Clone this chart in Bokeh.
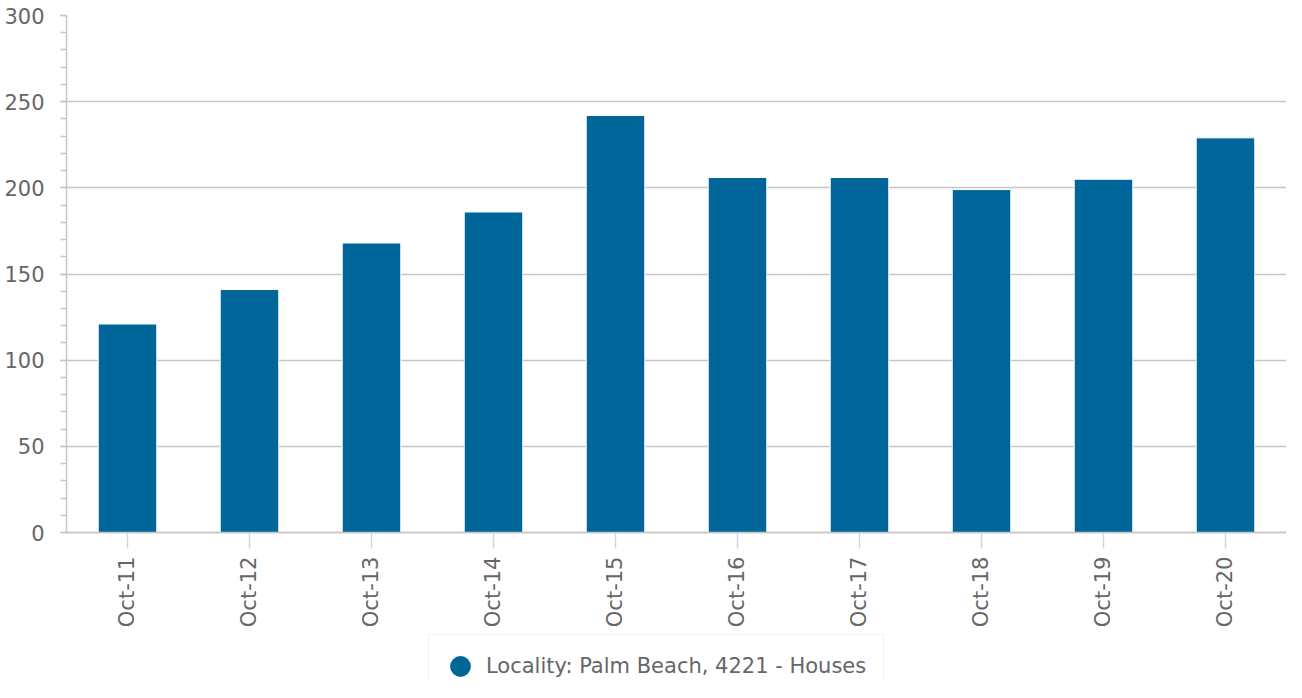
from bokeh.plotting import figure
from bokeh.models import (FactorRange, Range1d, SingleIntervalTicker, Legend, LegendItem,
                          ColumnDataSource)
from bokeh.embed import file_html
from bokeh.resources import INLINE

categories = ["Oct-11", "Oct-12", "Oct-13", "Oct-14", "Oct-15",
              "Oct-16", "Oct-17", "Oct-18", "Oct-19", "Oct-20"]
values = [121, 141, 168, 186, 242, 206, 206, 199, 205, 229]
series_name = "Locality: Palm Beach, 4221 - Houses"
bar_color = "#006699"

FONT = "DejaVu Sans"
TEXT = "#666666"
GRID = "#c6c6c6"
FS = "21px"

# frame spans to the bottom of the canvas; the x axis is pinned at y = 0
p = figure(width=1286, height=682, output_backend="svg", toolbar_location=None,
           x_range=FactorRange(*categories, range_padding=0),
           y_range=Range1d(-87, 300),
           min_border_left=66, min_border_right=0, min_border_top=15, min_border_bottom=0)
p.outline_line_color = None
p.background_fill_color = "white"
p.border_fill_color = "white"

src = ColumnDataSource(dict(x=categories, top=values))
p.vbar(x="x", top="top", bottom=0, width=0.48, source=src, fill_color=bar_color,
       line_color="white", line_width=1)

# legend proxy: zero-size circles (only the legend glyph is visible)
marker = p.scatter(x="x", y="top", source=src, marker="circle", size=0,
                   fill_color=bar_color, line_color=None)

# y axis
yax = p.yaxis[0]
yax.ticker = SingleIntervalTicker(interval=50, num_minor_ticks=5)
yax.bounds = (0, 300)
yax.axis_line_color = GRID
yax.axis_line_width = 1.5
yax.major_tick_line_color = GRID
yax.major_tick_line_width = 1.5
yax.minor_tick_line_color = GRID
yax.minor_tick_line_width = 1.5
yax.major_tick_out = 6
yax.major_tick_in = 0
yax.minor_tick_out = 6
yax.minor_tick_in = 0
yax.major_label_text_font = FONT
yax.major_label_text_font_size = FS
yax.major_label_text_color = TEXT
yax.major_label_standoff = 16

# x axis
xax = p.xaxis[0]
xax.fixed_location = 0
xax.axis_line_color = GRID
xax.axis_line_width = 1.5
xax.major_tick_line_color = "#ccd6eb"
xax.major_tick_line_width = 1.5
xax.major_tick_out = 16
xax.major_tick_in = 0
xax.minor_tick_line_color = None
xax.major_label_orientation = 3.14159265 / 2
xax.major_label_text_font = FONT
xax.major_label_text_font_size = FS
xax.major_label_text_color = TEXT
xax.major_label_standoff = 8

p.xgrid.grid_line_color = None
p.ygrid.grid_line_color = GRID
p.ygrid.grid_line_width = 1.5
p.ygrid.bounds = (0, 300)

legend = Legend(items=[LegendItem(label=series_name, renderers=[marker])],
                location=(362, -16), orientation="horizontal",
                glyph_width=52, glyph_height=52, label_standoff=0,
                padding=5, label_width=392,
                label_text_font=FONT, label_text_font_size=FS,
                label_text_color=TEXT, border_line_color="#e6e6e6",
                border_line_width=1.5, background_fill_color="white",
                background_fill_alpha=1.0)
p.add_layout(legend, "center")

open("out.html", "w").write(file_html(p, INLINE))
